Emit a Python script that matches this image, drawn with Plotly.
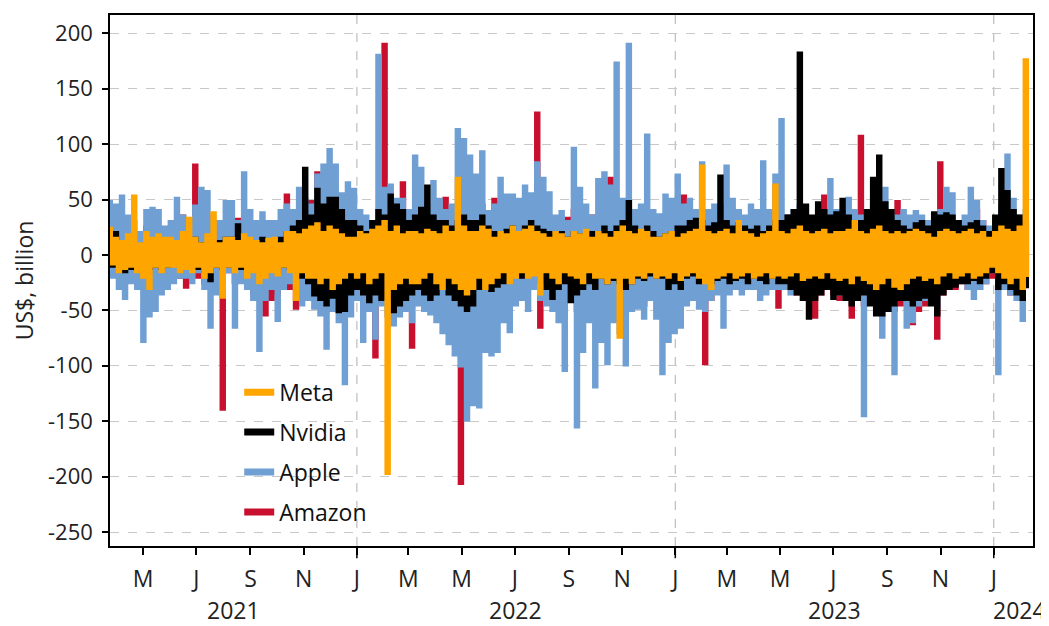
import pandas as pd
import plotly.graph_objects as go

# ---- weekly grid (each week: high point then low point of the daily changes) ----
week_start = pd.date_range("2021-03-22", periods=151, freq="7D")

# Meta (orange)
meta_hi = [24,15,12,18,53,10,20,15,18,15,
           15,12,20,33,15,10,18,38,10,15,
           15,12,18,15,12,10,14,15,10,20,
           20,18,22,25,28,20,25,22,18,15,
           15,20,18,22,25,30,20,25,18,20,
           20,18,22,20,18,25,20,69,25,20,
           20,25,22,15,20,18,25,20,22,25,
           20,18,15,20,18,15,20,18,22,15,
           20,18,15,20,25,20,18,22,20,15,
           15,18,20,15,18,20,22,80,20,18,
           20,22,18,30,20,18,15,18,20,63,
           20,18,22,25,20,18,20,22,18,20,
           20,22,30,20,18,22,25,20,18,20,
           18,20,22,20,18,15,20,22,20,18,
           20,22,18,20,15,20,25,22,20,25,176]
meta_lo = [-8,-15,-12,-10,-15,-20,-30,-10,-15,-10,
           -10,-15,-12,-15,-10,-20,-15,-10,-38,-10,
           -15,-10,-20,-15,-25,-20,-15,-18,-10,-15,
           -40,-15,-20,-20,-25,-20,-30,-25,-20,-15,
           -20,-15,-25,-20,-15,-197,-30,-25,-20,-25,
           -25,-20,-15,-25,-30,-20,-25,-30,-35,-30,
           -20,-30,-25,-20,-15,-25,-20,-15,-20,-18,
           -35,-15,-20,-25,-15,-18,-20,-25,-15,-20,
           -20,-25,-20,-74,-20,-25,-18,-20,-15,-20,
           -18,-20,-15,-22,-18,-15,-20,-25,-30,-20,
           -18,-15,-20,-18,-15,-20,-18,-15,-20,-18,
           -20,-18,-15,-22,-20,-18,-20,-15,-20,-22,
           -20,-25,-18,-22,-25,-30,-25,-20,-28,-30,
           -25,-20,-18,-22,-20,-25,-18,-15,-20,-18,
           -15,-20,-18,-15,-10,-15,-20,-25,-20,-30,-20]

# Nvidia (black)
nvda_hi = [15,20,12,10,10,8,10,12,15,12,
           10,12,10,12,15,10,8,10,12,15,
           15,27,12,10,12,15,10,12,15,20,
           25,30,78,35,59,45,51,51,40,30,
           30,25,20,30,40,35,54,45,40,30,
           35,42,62,35,30,30,25,30,35,30,
           30,35,25,20,20,22,25,20,25,30,
           25,22,20,18,20,15,20,18,15,20,
           20,25,20,25,30,48,25,20,25,20,
           15,18,20,25,25,30,32,30,25,28,
           71,30,25,28,25,22,25,20,25,30,
           30,35,40,182,45,35,47,40,35,38,
           50,35,30,30,40,69,89,47,40,30,
           25,22,28,30,25,38,35,37,35,30,
           25,28,30,25,20,35,77,57,40,35,30]
nvda_lo = [-10,-10,-15,-12,-10,-15,-12,-10,-12,-10,
           -8,-10,-8,-10,-12,-15,-23,-10,-12,-10,
           -10,-12,-15,-12,-10,-15,-12,-15,-10,-12,
           -15,-20,-25,-36,-40,-45,-38,-51,-50,-35,
           -30,-35,-42,-35,-40,-38,-51,-45,-40,-35,
           -30,-35,-40,-35,-30,-35,-40,-45,-50,-45,
           -30,-30,-32,-28,-25,-20,-18,-20,-15,-15,
           -25,-30,-39,-30,-25,-42,-35,-30,-25,-30,
           -20,-25,-22,-25,-30,-25,-20,-22,-18,-20,
           -20,-30,-25,-30,-20,-18,-25,-20,-25,-22,
           -20,-25,-22,-20,-25,-20,-22,-25,-20,-25,
           -25,-30,-35,-40,-57,-40,-35,-30,-39,-35,
           -40,-45,-40,-35,-45,-54,-54,-50,-45,-40,
           -40,-45,-40,-38,-45,-54,-35,-30,-28,-25,
           -25,-22,-25,-20,-15,-30,-25,-30,-35,-40,-30]

# Apple (blue)
aapl_hi = [48,45,53,35,30,20,40,42,40,25,
           30,51,35,28,44,60,57,30,30,48,
           48,30,74,40,30,38,30,30,40,45,
           40,60,50,45,72,81,95,81,55,65,
           59,40,35,30,180,60,63,50,50,40,
           89,78,45,66,50,40,45,113,104,89,
           72,93,39,45,69,54,54,50,62,55,
           83,69,56,35,39,30,96,60,45,35,
           68,74,62,173,50,190,40,45,108,40,
           36,54,50,72,45,50,40,83,40,45,
           45,80,50,40,35,45,40,84,40,72,
           122,35,40,45,35,30,40,35,68,40,
           40,51,40,35,30,45,40,60,35,35,
           40,35,39,35,30,35,40,60,55,30,
           35,60,48,30,25,30,45,90,50,35,40]
aapl_lo = [-20,-30,-39,-25,-30,-78,-55,-50,-35,-30,
           -25,-20,-20,-25,-15,-30,-65,-35,-20,-15,
           -65,-25,-30,-40,-86,-40,-30,-59,-30,-25,
           -30,-45,-40,-48,-54,-84,-50,-60,-116,-55,
           -40,-78,-50,-75,-45,-55,-63,-55,-50,-60,
           -45,-50,-53,-60,-70,-80,-90,-100,-149,-135,
           -137,-87,-90,-87,-60,-69,-45,-40,-50,-30,
           -40,-45,-50,-60,-104,-40,-155,-87,-60,-119,
           -78,-98,-60,-70,-99,-50,-48,-57,-40,-57,
           -107,-78,-70,-65,-45,-40,-48,-50,-40,-35,
           -65,-35,-30,-35,-30,-30,-40,-35,-30,-30,
           -30,-35,-30,-25,-30,-30,-28,-25,-30,-35,
           -35,-40,-35,-145,-40,-45,-74,-50,-107,-40,
           -65,-60,-45,-40,-35,-45,-30,-25,-20,-24,
           -30,-39,-30,-25,-15,-107,-30,-35,-40,-59,-25]

# Amazon (red)
amzn_hi = [20,25,30,15,20,15,25,20,25,15,
           25,30,35,20,81,30,35,25,20,25,
           25,32,30,20,25,30,25,20,30,54,
           30,35,30,48,74,40,45,35,30,30,
           25,20,18,25,30,190,40,45,65,30,
           30,35,30,35,40,51,40,45,50,40,
           40,45,35,50,40,35,30,35,30,40,
           128,40,35,30,30,33,40,35,30,35,
           35,40,69,45,40,40,35,30,35,30,
           30,35,40,45,53,30,35,40,30,35,
           35,30,35,30,25,30,28,30,30,35,
           30,35,30,30,30,30,35,53,35,30,
           30,35,30,107,35,35,40,35,30,48,
           25,30,25,25,28,30,83,35,30,28,
           25,30,40,30,20,30,35,40,35,30,30]
amzn_lo = [-15,-20,-25,-20,-15,-25,-30,-20,-20,-15,
           -15,-20,-29,-15,-20,-25,-30,-20,-139,-15,
           -25,-20,-25,-35,-30,-54,-40,-35,-20,-30,
           -48,-30,-25,-35,-40,-45,-40,-35,-45,-30,
           -30,-40,-35,-92,-40,-45,-50,-45,-50,-83,
           -40,-35,-45,-50,-55,-60,-70,-206,-80,-70,
           -60,-50,-45,-40,-35,-40,-38,-30,-25,-30,
           -65,-35,-40,-45,-50,-40,-50,-45,-40,-50,
           -40,-50,-45,-50,-55,-40,-40,-45,-35,-40,
           -40,-45,-40,-35,-30,-25,-35,-98,-40,-30,
           -30,-28,-25,-30,-28,-25,-30,-28,-30,-47,
           -30,-30,-35,-35,-40,-56,-35,-30,-35,-40,
           -35,-56,-40,-45,-40,-45,-40,-45,-50,-45,
           -40,-62,-50,-45,-40,-75,-35,-30,-30,-25,
           -30,-28,-30,-25,-20,-30,-30,-35,-30,-35,-25]

series = [  # drawn back to front
    ("Amazon", amzn_hi, amzn_lo, "#C8102E"),
    ("Apple", aapl_hi, aapl_lo, "#6F9FD3"),
    ("Nvidia", nvda_hi, nvda_lo, "#000000"),
    ("Meta", meta_hi, meta_lo, "#FFA500"),
]

tick_dates = ["2021-05-01", "2021-07-01", "2021-09-01", "2021-11-01",
              "2022-01-01", "2022-03-01", "2022-05-01", "2022-07-01", "2022-09-01", "2022-11-01",
              "2023-01-01", "2023-03-01", "2023-05-01", "2023-07-01", "2023-09-01", "2023-11-01",
              "2024-01-01"]
tick_text = ["M", "J", "S", "N", "J", "M", "M", "J", "S", "N", "J", "M", "M", "J", "S", "N", "J"]
year_labels = ["2021", "2022", "2023", "2024"]
year_pos = ["2021-08-12", "2022-07-02", "2023-07-02", "2024-01-30"]
year_starts = ["2022-01-01", "2023-01-01", "2024-01-01"]
y_ticks = [200, 150, 100, 50, 0, -50, -100, -150, -200, -250]

FONT = "Open Sans, Noto Sans, sans-serif"
FS = 23

xs = []
for d in week_start:
    xs.append(d)
    xs.append(d + pd.Timedelta(hours=84))

fig = go.Figure()
for name, hi, lo, col in series:
    ys = []
    for a, b in zip(hi, lo):
        ys.append(a)
        ys.append(b)
    fig.add_trace(go.Scatter(x=xs, y=ys, mode="lines", name=name,
                             line=dict(color=col, width=3.4, shape="hv"),
                             showlegend=False, hoverinfo="skip"))

# legend entries (thicker swatches), listed top to bottom
for name, hi, lo, col in reversed(series):
    fig.add_trace(go.Scatter(x=[None], y=[None], mode="lines", name=name,
                             legendgroup=name,
                             line=dict(color=col, width=7)))

shapes = []
for ys_ in year_starts:
    shapes.append(dict(type="line", xref="x", yref="paper", x0=ys_, x1=ys_, y0=0, y1=1,
                       line=dict(color="#BDBDBD", width=1.2, dash="dash"), layer="below"))
    shapes.append(dict(type="line", xref="x", yref="paper", x0=ys_, x1=ys_, y0=0, y1=-0.023,
                       line=dict(color="black", width=1.5)))

annotations = [dict(text=yr, x=pos, y=-0.12, xref="x", yref="paper", showarrow=False,
                    font=dict(size=FS, color="#222", family=FONT), yanchor="middle")
               for yr, pos in zip(year_labels, year_pos)]

# the page body adds an 8px offset, so the figure is sized 8px smaller
fig.update_layout(
    width=1041, height=618,
    margin=dict(l=102, r=16, t=7, b=80, autoexpand=False),
    paper_bgcolor="white", plot_bgcolor="white",
    font=dict(family=FONT, size=FS, color="#222"),
    shapes=shapes, annotations=annotations,
    legend=dict(x=0.14, y=0.33, xanchor="left", yanchor="top",
                traceorder="grouped", tracegroupgap=7,
                bgcolor="rgba(0,0,0,0)", font=dict(size=FS, color="#111", family=FONT)),
    showlegend=True,
)
fig.update_xaxes(type="date", range=["2021-03-24", "2024-02-15"], automargin=False,
                 tickvals=tick_dates, ticktext=tick_text,
                 ticks="outside", ticklen=7, tickwidth=1.5, tickcolor="black",
                 showgrid=False, showline=True, linecolor="black", linewidth=1.5, mirror=True,
                 ticklabelstandoff=5)
fig.update_yaxes(range=[-262.6, 216.5], tickvals=y_ticks, ticktext=[str(v) for v in y_ticks],
                 automargin=False, tickfont=dict(size=22),
                 ticks="outside", ticklen=6, tickwidth=1.5, tickcolor="black",
                 showgrid=True, gridcolor="#C8C8C8", griddash="dash", gridwidth=1,
                 zeroline=False, showline=True, linecolor="black", linewidth=1.5, mirror=True,
                 ticklabelstandoff=5,
                 title=dict(text="US$, billion", standoff=12, font=dict(size=FS)))

fig.write_html("out.html")
